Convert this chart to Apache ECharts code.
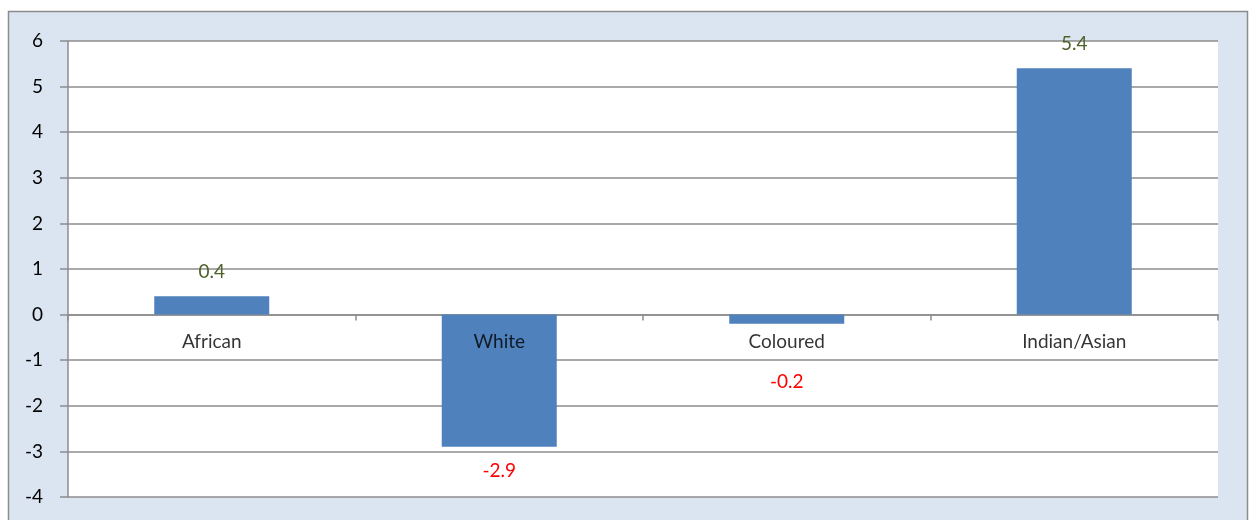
<!DOCTYPE html>
<html>
<head>
<meta charset="utf-8">
<script src="https://cdn.jsdelivr.net/npm/echarts@6/dist/echarts.min.js"></script>
<style>
  html, body { margin: 0; padding: 0; background: #ffffff; }
  #chart { width: 1250px; height: 520px; }
</style>
</head>
<body>
<div id="chart"></div>
<script>
// Population change by group
const categories = ['African', 'White', 'Coloured', 'Indian/Asian'];
const values = [0.4, -2.9, -0.2, 5.4];
const yTicks = { min: -4, max: 6, interval: 1 };

const FONT = 'Lato, "Liberation Sans", sans-serif';
const posColor = '#4f6228';
const negColor = '#ff0000';

const chart = echarts.init(document.getElementById('chart'), null, { renderer: 'canvas' });

const seriesData = values.map((v) => {
  const item = {
    value: v,
    label: {
      show: true,
      position: v >= 0 ? 'top' : 'bottom',
      distance: 15,
      color: v >= 0 ? posColor : negColor
    }
  };
  // small negative bar: push its label clear of the category name
  if (v < 0 && v > -1) {
    item.label.distance = 49;
  }
  return item;
});

// category names sit just under the zero line, on top of the bars
const nameAnchors = categories.map((c) => [c, 0]);

chart.setOption({
  animation: false,
  backgroundColor: '#ffffff',
  graphic: [{
    type: 'rect',
    z: -10,
    silent: true,
    shape: { x: 8.5, y: 11.5, width: 1239, height: 540 },
    style: { fill: '#dbe5f1', stroke: '#8c8c8c', lineWidth: 1.5 }
  }],
  grid: {
    left: 68, right: 32, top: 41, bottom: 23,
    show: true,
    backgroundColor: '#ffffff',
    borderWidth: 0,
    outerBoundsMode: 'none'
  },
  xAxis: {
    type: 'category',
    data: categories,
    axisLine: { onZero: true, lineStyle: { color: '#8c8c8c', width: 1.5 } },
    axisTick: { show: true, length: 6, lineStyle: { color: '#8c8c8c', width: 1.5 } },
    axisLabel: { show: false },
    splitLine: { show: false }
  },
  yAxis: {
    type: 'value',
    min: yTicks.min,
    max: yTicks.max,
    interval: yTicks.interval,
    axisLine: { show: true, lineStyle: { color: '#8c8c8c', width: 1.5 } },
    axisTick: { show: true, length: 8, lineStyle: { color: '#8c8c8c', width: 1.5 } },
    axisLabel: { color: '#000000', fontSize: 19, fontFamily: FONT, margin: 25 },
    splitLine: { show: true, lineStyle: { color: '#8c8c8c', width: 1.5 } }
  },
  series: [{
    type: 'bar',
    data: seriesData,
    barWidth: '40%',
    itemStyle: { color: '#4f81bd' },
    label: { fontSize: 19, fontFamily: FONT }
  }, {
    type: 'scatter',
    data: nameAnchors,
    symbolSize: 0,
    silent: true,
    z: 10,
    label: {
      show: true,
      position: 'bottom',
      distance: 18,
      color: '#000000',
      fontSize: 19,
      fontFamily: FONT,
      formatter: (p) => p.data[0]
    }
  }]
});
</script>
</body>
</html>
